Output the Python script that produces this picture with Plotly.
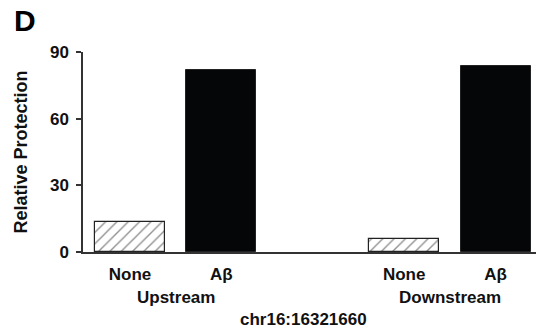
import plotly.graph_objects as go

# Data
conditions = ["None", "Aβ", "None", "Aβ"]
positions = [0, 1, 3, 4]
values_none = [13.6, 5.7]
values_abeta = [81.8, 83.6]
group_labels = ["Upstream", "Downstream"]
group_centers = [0.5, 3.5]
y_ticks = [0, 30, 60, 90]
locus_label = "chr16:16321660"

FONT = "Liberation Sans, Arial, sans-serif"
BOLD = dict(family=FONT, size=17, weight="bold", color="#111")

fig = go.Figure()
fig.add_trace(go.Bar(
    x=[positions[0], positions[2]], y=values_none, width=0.766,
    marker=dict(color="white", line=dict(color="#222", width=1.2),
                pattern=dict(shape="/", fgcolor="#222", bgcolor="white",
                             size=8, solidity=0.17)),
    showlegend=False,
))
fig.add_trace(go.Bar(
    x=[positions[1], positions[3]], y=values_abeta, width=0.766,
    marker=dict(color="#050608", line=dict(color="#222", width=1)),
    showlegend=False,
))

fig.update_layout(
    width=536, height=333,
    margin=dict(l=83, r=0, t=52, b=81),
    plot_bgcolor="white", paper_bgcolor="white",
    font=dict(family=FONT, color="#111", size=17),
    bargap=0,
    xaxis=dict(
        range=[-0.514, 4.442], tickvals=positions, ticktext=conditions,
        showline=True, linecolor="#333", linewidth=1.5, ticks="",
        showgrid=False, zeroline=False, ticklabelstandoff=6,
        automargin=False, tickfont=BOLD,
    ),
    yaxis=dict(
        range=[0, 90], tickvals=y_ticks, showline=True, linecolor="#333",
        linewidth=1.5, ticks="outside", ticklen=5, tickcolor="#333",
        tickwidth=1.5, showgrid=False, zeroline=False, automargin=False,
        tickfont=BOLD, ticklabelstandoff=4,
        title=dict(text="Relative Protection", standoff=18,
                   font=dict(family=FONT, size=18, weight="bold", color="#111")),
    ),
)

for lbl, cx in zip(group_labels, group_centers):
    fig.add_annotation(x=cx, y=0, xref="x", yref="paper", yshift=-45,
                       text=lbl, showarrow=False, yanchor="middle", font=BOLD)

fig.add_annotation(x=1.9, y=0, xref="x", yref="paper", yshift=-67,
                   text=locus_label, showarrow=False, yanchor="middle", font=BOLD)
fig.add_annotation(x=-0.128, y=1.155, xref="paper", yref="paper", text="D",
                   showarrow=False, xanchor="center", yanchor="middle",
                   font=dict(family=FONT, size=30, weight="bold", color="#000"))

fig.write_html("out.html", config={"displayModeBar": False},
               post_script="document.body.style.margin='0';")
